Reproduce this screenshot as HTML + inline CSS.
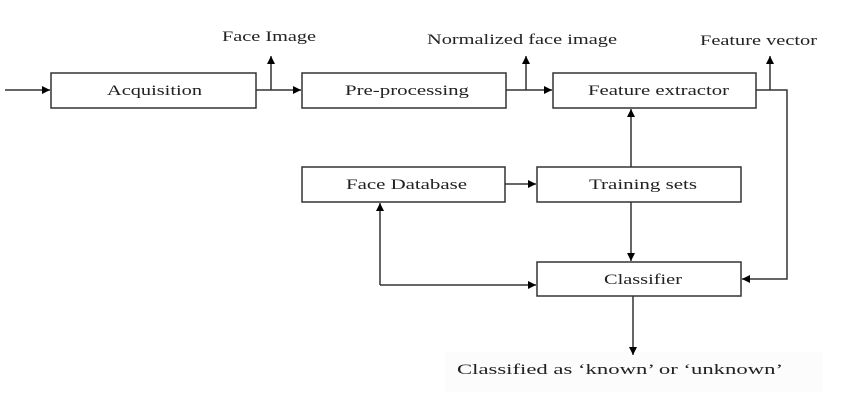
<!DOCTYPE html>
<html><head><meta charset="utf-8"><style>html,body{margin:0;padding:0;background:#fff}svg{display:block}</style></head>
<body>
<svg width="852" height="414" viewBox="0 0 852 414" xmlns="http://www.w3.org/2000/svg">
<defs><marker id="a" viewBox="0 0 10 10" refX="10" refY="5" markerWidth="8" markerHeight="8" orient="auto" markerUnits="userSpaceOnUse"><path d="M0,0L10,5L0,10z" fill="#000"/></marker></defs>
<rect x="445" y="352" width="378" height="40" fill="#fcfcfc"/>
<g fill="#fff" stroke="#333" stroke-width="1.5">
<rect x="51" y="73" width="205" height="35"/>
<rect x="302" y="73" width="204" height="35"/>
<rect x="553" y="73" width="203" height="35"/>
<rect x="302" y="167" width="203" height="35"/>
<rect x="537" y="167" width="204" height="35"/>
<rect x="537" y="262" width="204" height="34"/>
</g>
<g stroke="#333" stroke-width="1.5" fill="none">
<line x1="5" y1="90" x2="50" y2="90" marker-end="url(#a)"/>
<line x1="256" y1="90" x2="301" y2="90" marker-end="url(#a)"/>
<line x1="271" y1="90" x2="271" y2="56" marker-end="url(#a)"/>
<line x1="506" y1="90" x2="552" y2="90" marker-end="url(#a)"/>
<line x1="526" y1="90" x2="526" y2="56" marker-end="url(#a)"/>
<polyline points="756,90 787,90 787,279 742,279" marker-end="url(#a)"/>
<line x1="770" y1="90" x2="770" y2="56" marker-end="url(#a)"/>
<line x1="505" y1="184" x2="536" y2="184" marker-end="url(#a)"/>
<line x1="631" y1="167" x2="631" y2="109" marker-end="url(#a)"/>
<line x1="631" y1="202" x2="631" y2="261" marker-end="url(#a)"/>
<line x1="380" y1="285" x2="380" y2="203" marker-end="url(#a)"/>
<polyline points="380,285 536,285" marker-end="url(#a)"/>
<line x1="633" y1="296" x2="633" y2="355" marker-end="url(#a)"/>
</g>
<g font-family="'Liberation Serif',serif" font-size="15" fill="#222">
<text x="222" y="41" textLength="94" lengthAdjust="spacingAndGlyphs">Face Image</text>
<text x="427" y="44" textLength="190" lengthAdjust="spacingAndGlyphs">Normalized face image</text>
<text x="700" y="45" textLength="117" lengthAdjust="spacingAndGlyphs">Feature vector</text>
<text x="107" y="95" textLength="95" lengthAdjust="spacingAndGlyphs">Acquisition</text>
<text x="345" y="95" textLength="124" lengthAdjust="spacingAndGlyphs">Pre-processing</text>
<text x="588" y="95" textLength="141" lengthAdjust="spacingAndGlyphs">Feature extractor</text>
<text x="346" y="189" textLength="121" lengthAdjust="spacingAndGlyphs">Face Database</text>
<text x="589" y="189" textLength="108" lengthAdjust="spacingAndGlyphs">Training sets</text>
<text x="604" y="284" textLength="78" lengthAdjust="spacingAndGlyphs">Classifier</text>
<text x="457" y="374" textLength="326" lengthAdjust="spacingAndGlyphs">Classified as ‘known’ or ‘unknown’</text>
</g>
</svg>
</body></html>
